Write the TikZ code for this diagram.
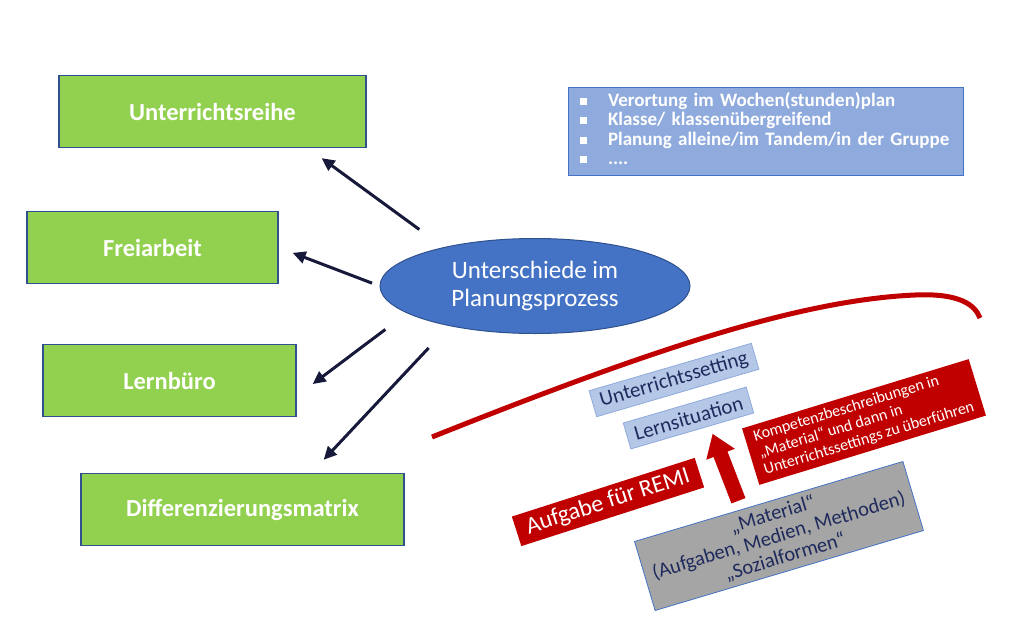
\documentclass[tikz,border=0pt]{standalone}
\usepackage{fontspec}
\setmainfont{Carlito}
\usetikzlibrary{arrows.meta}
\usetikzlibrary{shapes}
\usetikzlibrary{calc}

\definecolor{gruen}{HTML}{92D050}
\definecolor{rahmen}{HTML}{2F528F}
\definecolor{mittelblau}{HTML}{4472C4}
\definecolor{hellblau}{HTML}{8FAADC}
\definecolor{graublau}{HTML}{B4C7E7}
\definecolor{dunkel}{HTML}{16193A}
\definecolor{schrift}{HTML}{1F2A5C}
\definecolor{remirot}{HTML}{C00000}
\definecolor{grau}{HTML}{A5A5A5}

\newcommand{\punkt}{\textcolor{white}{\rule[1.5pt]{7pt}{7pt}}}

\begin{document}
\begin{tikzpicture}[x=1pt,y=-1pt,
methode/.style={draw=rahmen,line width=1.2pt,fill=gruen,text=white,
font=\fontsize{24.5}{28}\selectfont\bfseries,minimum width=#1,minimum height=72pt,inner sep=0pt},
pfeil/.style={draw=dunkel,line width=3pt,-{Triangle[length=13pt,width=12pt]}},
setting/.style={draw=hellblau,line width=0.8pt,fill=graublau,text=schrift,
font=\fontsize{21}{22}\selectfont,minimum height=27pt,inner sep=0pt,rotate=16.3},
rotkasten/.style={fill=remirot,text=white,inner sep=0pt,rotate=#1}]
\useasboundingbox (0,0) rectangle (1024,623);

\node[methode=307pt] (reihe) at (212.5,111.5) {Unterrichtsreihe};
\node[methode=251pt] (frei) at (152.5,247.5) {Freiarbeit};
\node[methode=253pt] (lern) at (169.5,380.5) {Lernbüro};
\node[methode=323pt] (matrix) at (242.5,509.5) {Differenzierungsmatrix};

\node[ellipse,draw=rahmen,line width=1pt,fill=mittelblau,text=white,align=center,
minimum width=310pt,minimum height=95pt,inner sep=0pt,
font=\fontsize{25}{28}\selectfont] (plan) at (535,286) {Unterschiede im\\Planungsprozess};

\draw[pfeil,shorten <=30pt,shorten >=17pt] (plan.157) -- (reihe.-21);
\draw[pfeil,shorten <=8pt,shorten >=15pt] (plan.west) -- (frei.east);
\draw[pfeil,shorten <=27pt,shorten >=20pt] (plan.192.6) -- (lern.-7.3);
\draw[pfeil,shorten <=30pt,shorten >=18pt] (plan.205) -- (matrix.28.2);

\node[draw=mittelblau,line width=1pt,fill=hellblau,text=white,
text width=371pt,align=left,minimum height=87pt,inner xsep=12pt,inner ysep=0pt,
font=\fontsize{19}{19.5}\selectfont\bfseries] (aspekte) at (765.5,131.5)
{\begin{tabular}{@{}l@{\hspace{21pt}}l@{}}
\punkt & Verortung im Wochen(stunden)plan\\
\punkt & Klasse/ klassenübergreifend\\
\punkt & Planung alleine/im Tandem/in der Gruppe\\
\punkt & ....
\end{tabular}};

\draw[remirot,line width=5pt] (432,437) .. controls (650,350) and (800,300) .. (915,295)
.. controls (960,293) and (975,305) .. (980,318);

\node[setting,minimum width=169pt] (usetting) at (674,380) {Unterrichtssetting};
\node[setting,minimum width=128pt] (lsituation) at (688.5,418) {Lernsituation};

\node[rotkasten=17.8,minimum width=192pt,minimum height=31pt,
font=\fontsize{24}{28}\selectfont] (remi) at (608,502) {Aufgabe für REMI};

\node[rotkasten=17,minimum width=237pt,minimum height=59pt,align=left,
font=\fontsize{16}{17.5}\selectfont] (kompetenz) at (864,422)
{Kompetenzbeschreibungen in\\„Material“ und dann in\\Unterrichtssettings zu überführen};

\node[draw=mittelblau,line width=0.8pt,fill=grau,text=schrift,align=center,
minimum width=280pt,minimum height=72pt,inner sep=0pt,rotate=16.6,
font=\fontsize{20.5}{22}\selectfont] (material) at (779,536)
{„Material“\\(Aufgaben, Medien, Methoden)\\„Sozialformen“};

\draw[remirot,line width=15pt,-{Triangle[length=22pt,width=29pt]},shorten <=9pt,shorten >=8pt]
($(material.north)!0.2!(material.north west)$) -- ($(lsituation.south)!0.28!(lsituation.south east)$);
\end{tikzpicture}
\end{document}
